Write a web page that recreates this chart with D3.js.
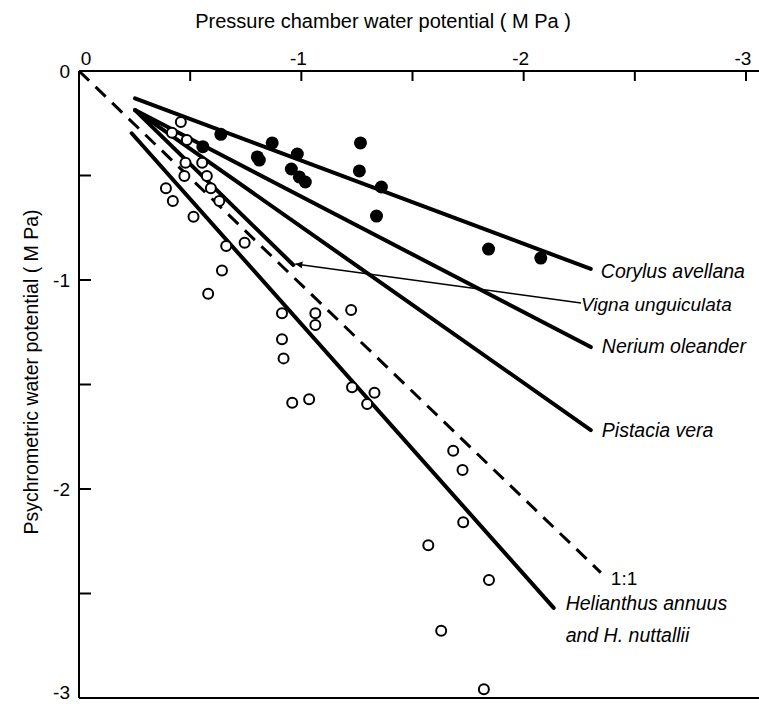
<!DOCTYPE html>
<html>
<head>
<meta charset="utf-8">
<script src="https://cdn.jsdelivr.net/npm/d3@7"></script>
<style>
  body { margin: 0; background: #fff; }
  svg { display: block; font-family: "Liberation Sans", Arial, sans-serif; }
  .spec { font-style: italic; font-size: 19.5px; }
</style>
</head>
<body>
<svg id="chart" width="759" height="704"></svg>
<script>
// pressure chamber (x) vs psychrometric (y) water potential, MPa
const filledX = [-0.638, -0.557, -0.869, -0.802, -0.811, -0.982, -0.955, -0.991, -1.018, -1.266, -1.261, -1.360, -1.338, -1.842, -2.077];
const filledY = [-0.303, -0.362, -0.344, -0.411, -0.426, -0.397, -0.469, -0.507, -0.531, -0.344, -0.478, -0.555, -0.694, -0.852, -0.895];

const openX = [-0.458, -0.418, -0.485, -0.479, -0.554, -0.474, -0.575, -0.593, -0.391, -0.422, -0.631, -0.515, -0.745, -0.662, -0.643, -0.581,
  -0.913, -1.063, -1.063, -1.224, -0.913, -0.920, -0.959, -1.035, -1.228, -1.329, -1.296,
  -1.683, -1.725, -1.728, -1.571, -1.844, -1.629, -1.821];
const openY = [-0.244, -0.295, -0.330, -0.439, -0.439, -0.502, -0.502, -0.561, -0.561, -0.622, -0.622, -0.697, -0.822, -0.837, -0.955, -1.066,
  -1.159, -1.159, -1.215, -1.144, -1.284, -1.375, -1.587, -1.571, -1.513, -1.539, -1.593,
  -1.817, -1.909, -2.159, -2.269, -2.435, -2.678, -2.958];

// regression lines: [x0, y0, x1, y1]
const species = ["Corylus avellana", "Vigna unguiculata", "Nerium oleander", "Pistacia vera", "Helianthus annuus"];
const fitLines = [
  [-0.252, -0.131, -2.302, -0.947],
  [-0.252, -0.187, -0.964, -0.928],
  [-0.252, -0.187, -2.302, -1.321],
  [-0.252, -0.187, -2.302, -1.718],
  [-0.237, -0.298, -2.135, -2.569]
];
const oneToOne = [0, 0, -2.347, -2.40];

const xTicks = [0, -0.5, -1, -1.5, -2, -2.5, -3];
const xTickLabels = ["0", "", "-1", "", "-2", "", "-3"];
const yTicks = [-0.5, -1, -1.5, -2, -2.5, -3];
const yTickLabels = ["", "-1", "", "-2", "", "-3"];

const svg = d3.select("#chart");
const W = 759;
const x = d3.scaleLinear().domain([0, -3]).range([79, 746]);
const y = d3.scaleLinear().domain([0, -3]).range([71, 698]);

svg.append("defs").append("marker")
  .attr("id", "arrow").attr("viewBox", "0 0 10 10").attr("refX", 10).attr("refY", 5)
  .attr("markerWidth", 12).attr("markerHeight", 7).attr("markerUnits", "userSpaceOnUse")
  .attr("orient", "auto")
  .append("path").attr("d", "M0,0L10,5L0,10Z").attr("fill", "#000");

// axes (top x, left y, bottom frame line)
const g = svg.append("g").attr("stroke", "#000").attr("stroke-width", 2);
g.append("line").attr("x1", x(0)).attr("x2", W).attr("y1", y(0)).attr("y2", y(0));
g.append("line").attr("x1", x(0)).attr("x2", x(0)).attr("y1", y(0)).attr("y2", y(-3));
g.append("line").attr("x1", x(0)).attr("x2", W).attr("y1", y(-3)).attr("y2", y(-3));
g.selectAll(".xt").data(xTicks.slice(1)).enter().append("line")
  .attr("x1", d => x(d)).attr("x2", d => x(d)).attr("y1", y(0)).attr("y2", y(0) + 10);
g.selectAll(".yt").data(yTicks.slice(0, -1)).enter().append("line")
  .attr("x1", x(0)).attr("x2", x(0) + 12).attr("y1", d => y(d)).attr("y2", d => y(d));

svg.selectAll(".xl").data(xTicks).enter().append("text")
  .attr("x", d => x(d)).attr("y", y(0) - 6).attr("text-anchor", "middle")
  .attr("font-size", 19).attr("dx", (d, i) => i === 0 ? 7 : -3)
  .text((d, i) => xTickLabels[i]);
svg.selectAll(".yl").data(yTicks).enter().append("text")
  .attr("x", x(0) - 9).attr("y", (d, i) => y(d) - (i === 5 ? 6 : 0)).attr("dy", "0.35em")
  .attr("text-anchor", "end")
  .attr("font-size", 19).text((d, i) => yTickLabels[i]);
svg.append("text").attr("x", x(0) - 9).attr("y", y(0) + 7).attr("text-anchor", "end")
  .attr("font-size", 19).text("0");

svg.append("text").attr("x", 383).attr("y", 28).attr("text-anchor", "middle")
  .attr("font-size", 20).text("Pressure chamber water potential ( M Pa )");
svg.append("text").attr("transform", `translate(38,${372}) rotate(-90)`).attr("text-anchor", "middle")
  .attr("font-size", 19.5).text("Psychrometric water potential ( M Pa)");

// 1:1 line
svg.append("line")
  .attr("x1", x(oneToOne[0])).attr("y1", y(oneToOne[1]))
  .attr("x2", x(oneToOne[2])).attr("y2", y(oneToOne[3]))
  .attr("stroke", "#000").attr("stroke-width", 3).attr("stroke-dasharray", "14 9");

// fitted lines
svg.selectAll(".fit").data(fitLines).enter().append("line")
  .attr("x1", d => x(d[0])).attr("y1", d => y(d[1]))
  .attr("x2", d => x(d[2])).attr("y2", d => y(d[3]))
  .attr("stroke", "#000").attr("stroke-width", 4).attr("stroke-linecap", "round");

// points
svg.selectAll(".op").data(openX).enter().append("circle")
  .attr("cx", d => x(d)).attr("cy", (d, i) => y(openY[i])).attr("r", 5)
  .attr("fill", "#fff").attr("stroke", "#000").attr("stroke-width", 2);
svg.selectAll(".fp").data(filledX).enter().append("circle")
  .attr("cx", d => x(d)).attr("cy", (d, i) => y(filledY[i])).attr("r", 6.5)
  .attr("fill", "#000");

// labels
const ends = fitLines.map(d => [x(d[2]), y(d[3])]);
const lab = svg.append("g").attr("class", "spec");
lab.append("text").attr("x", ends[0][0] + 10).attr("y", ends[0][1] + 9).text(species[0]);
lab.append("text").attr("x", ends[2][0] + 11).attr("y", ends[2][1] + 6).text(species[2]);
lab.append("text").attr("x", ends[3][0] + 11).attr("y", ends[3][1] + 7).text(species[3]);
lab.append("text").attr("x", ends[4][0] + 12).attr("y", ends[4][1] + 2).text(species[4]);
lab.append("text").attr("x", ends[4][0] + 12).attr("y", ends[4][1] + 34).text("and H. nuttallii");
const vigX = 581, vigY = 311;
lab.append("text").attr("x", vigX).attr("y", vigY).style("font-size", "19px").text(species[1]);
svg.append("line").attr("x1", vigX).attr("y1", vigY - 8)
  .attr("x2", ends[1][0] + 2).attr("y2", ends[1][1] - 1)
  .attr("stroke", "#000").attr("stroke-width", 1.6).attr("marker-end", "url(#arrow)");
svg.append("text").attr("x", x(oneToOne[2]) + 10).attr("y", y(oneToOne[3]) + 12)
  .attr("font-size", 19).text("1:1");
</script>
</body>
</html>
